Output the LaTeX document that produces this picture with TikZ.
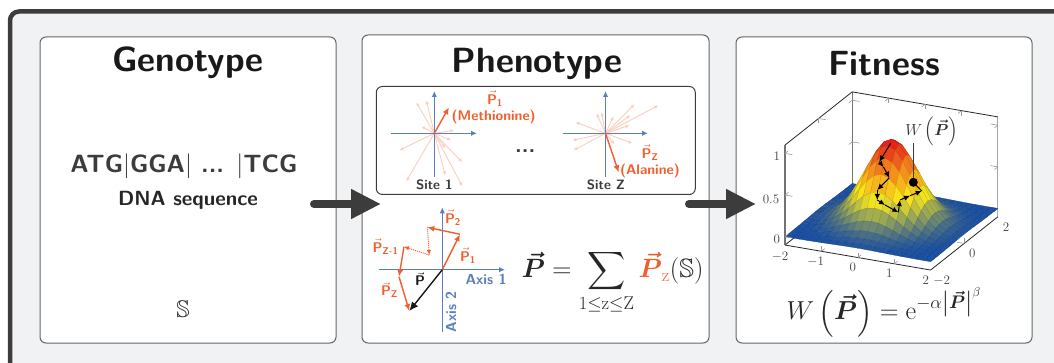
\documentclass[tikz,border=0pt]{standalone}
\usepackage{fix-cm}
\usepackage{amsmath, amssymb}
\usepackage{xcolor}
\usepackage{tikz}
\usetikzlibrary{arrows.meta}

\definecolor{framegray}{HTML}{3C3C3C}
\definecolor{panelbg}{HTML}{F1F2F4}
\definecolor{axisblue}{HTML}{5B7FBD}
\definecolor{vecorange}{HTML}{F15F2E}
\definecolor{fitblue}{HTML}{1B50A4}
\definecolor{fityellow}{HTML}{FAE81A}
\definecolor{fitorange}{HTML}{F4891C}
\definecolor{fitred}{HTML}{E6201E}

\newcommand{\vecP}{\vec{\textbf{\textsf{P}}}}
\newcommand{\subtag}[1]{{\scriptstyle\textbf{\textsf{#1}}}}
\newcommand{\setsurfcolor}[1]{%
    \pgfmathsetmacro\zv{#1}%
    \ifdim\zv pt<0.42pt
        \pgfmathtruncatemacro\mixp{\zv/0.42*100}\colorlet{surf}{fityellow!\mixp!fitblue}%
    \else\ifdim\zv pt<0.7pt
        \pgfmathtruncatemacro\mixp{(\zv-0.42)/0.28*100}\colorlet{surf}{fitorange!\mixp!fityellow}%
    \else
        \pgfmathtruncatemacro\mixp{(\zv-0.7)/0.26*100}\colorlet{surf}{fitred!\mixp!fitorange}%
    \fi\fi}

\tikzset{
    panel/.style={draw=black!60, fill=white, line width=1pt, rounded corners=6pt, inner sep=0pt},
    paneltitle/.style={font=\fontsize{35}{38}\selectfont\sffamily\bfseries, text=black!90},
    bigarrow/.style={draw=framegray, line width=8pt, line cap=round, -{Triangle[length=30pt,width=28pt]}},
    axisline/.style={draw=axisblue, line width=1.2pt, -{Latex[length=6pt,width=5.5pt]}},
    axislabel/.style={font=\fontsize{14.5}{16}\selectfont\sffamily\bfseries, text=axisblue, inner sep=0pt},
    faintvec/.style={draw=vecorange!30, line width=0.9pt, -{Latex[length=4pt,width=3.5pt]}},
    strongvec/.style={draw=vecorange, line width=1.4pt, -{Latex[length=7pt,width=6pt]}},
    dottedvec/.style={draw=vecorange, line width=1pt, densely dotted, -{Latex[length=5pt,width=4.5pt]}},
    veclabel/.style={font=\fontsize{14}{16}\selectfont\sffamily\bfseries, text=vecorange, inner sep=0pt},
    sitelabel/.style={font=\fontsize{13.5}{16}\selectfont\sffamily\bfseries, text=framegray, inner sep=0pt},
    boxedge/.style={draw=black!85, line width=0.8pt},
    boxpost/.style={draw=black!55, line width=1.3pt},
    tickline/.style={draw=black!40, line width=0.6pt},
    ticklabel/.style={font=\fontsize{13}{15}\selectfont, text=black!75, inner sep=0pt},
    walkarrow/.style={draw=black, line width=1pt, -{Latex[length=6pt,width=5.5pt]}}
}

\begin{document}
\begin{tikzpicture}[x=1pt, y=-1pt, declare function={fit(\u,\v)=exp(-1.1*(\u*\u+\v*\v));}]
    \useasboundingbox (0,0) rectangle (1054,363);
    \clip (0,0) rectangle (1054,363);

    % 1. Outer frame
    \draw[draw=framegray, fill=panelbg, line width=4.5pt, rounded corners=9pt] (10,400) -- (10,11.5) -- (1100,11.5) -- (1100,400) -- cycle;

    % 2. Panels
    \node[panel, minimum width=296pt, minimum height=306pt] (genobox) at (188,190) {};
    \node[panel, minimum width=347pt, minimum height=308pt] (phenobox) at (535.5,189) {};
    \node[panel, minimum width=296pt, minimum height=306pt] (fitbox) at (884,190) {};
    \node[paneltitle] (genotitle) at (188,63) {Genotype};
    \node[paneltitle] (phenotitle) at (537,64) {Phenotype};
    \node[paneltitle] (fittitle) at (884,64) {Fitness};

    % 3. Genotype
    \node[font=\fontsize{25}{28}\selectfont\sffamily\bfseries, text=framegray] (codons) at (184,166) {ATG$|$GGA$|$ ... $|$TCG};
    \node[font=\fontsize{20.5}{24}\selectfont\sffamily\bfseries, text=black!85] (dnalabel) at (188,200) {DNA sequence};
    \node[font=\fontsize{24}{28}\selectfont, text=black!85] (genosym) at (183,309) {$\mathbb{S}$};

    % 4. Sites
    \node[draw=framegray, fill=white, line width=1pt, rounded corners=6pt, minimum width=319pt, minimum height=108pt, inner sep=0pt] (sitebox) at (535.8,140.5) {};
    \coordinate (siteA) at (434.3,133.3);
    \coordinate (siteB) at (605.5,133.3);
    \foreach \dx/\dy in {-18/-31, -8/-33, -13/-7, 20/-3, 17/7, -35/17, -28/48, 28/29, 28/53, 11/42, 11/15}
        \draw[faintvec] (siteA) -- ++(\dx,\dy);
    \foreach \dx/\dy in {29/-29, 53/-28, 8/-17, -4/-21, -9/-20, 24/-8, 25/-18, -30/-11, -33/7, -32/17, 9/11, 27/10}
        \draw[faintvec] (siteB) -- ++(\dx,\dy);
    \draw[axisline] (391.3,133.3) -- (477,133.3);
    \draw[axisline] (434.3,176.7) -- (434.3,91);
    \draw[axisline] (562.5,133.3) -- (648,133.3);
    \draw[axisline] (605.5,176.7) -- (605.5,91);
    \coordinate (siteAtip) at (449,107.3);
    \coordinate (siteBtip) at (618.7,172.3);
    \draw[strongvec] (siteA) -- (siteAtip);
    \draw[strongvec] (siteB) -- (siteBtip);
    \node[veclabel] (labA) at (495,98.5) {$\vecP_{\subtag{1}}$};
    \node[veclabel] (metlabel) at (493.7,116.7) {(Methionine)};
    \node[veclabel] (labZ) at (650,152.5) {$\vecP_{\subtag{Z}}$};
    \node[veclabel] (alalabel) at (650,170.7) {(Alanine)};
    \node[sitelabel] (siteone) at (434.3,185.3) {Site 1};
    \node[sitelabel] (sitezed) at (606,185.3) {Site Z};
    \node[font=\fontsize{22}{24}\selectfont\sffamily\bfseries, text=framegray] (sitedots) at (525.3,151) {...};

    % 5. Sum of vectors
    \coordinate (sumO) at (442.3,269.7);
    \coordinate (sumA) at (460,234.3);
    \coordinate (sumB) at (427.3,227.3);
    \coordinate (sumC) at (429.3,255);
    \coordinate (sumD) at (404,246.7);
    \coordinate (sumE) at (399,276.7);
    \coordinate (sumF) at (409.3,311);
    \draw[axisline] (379.3,269.7) -- (505,269.7);
    \draw[axisline] (442.3,331.7) -- (442.3,207.3);
    \draw[strongvec] (sumO) -- (sumA);
    \draw[strongvec] (sumA) -- (sumB);
    \draw[dottedvec] (sumB) -- (sumC);
    \draw[dottedvec] (sumC) -- (sumD);
    \draw[strongvec] (sumD) -- (sumE);
    \draw[strongvec] (sumE) -- (sumF);
    \draw[draw=black!90, line width=1.4pt, -{Latex[length=9pt,width=8pt]}] (sumO) -- (sumF);
    \node[veclabel] (sumlabA) at (468,255.7) {$\vecP_{\subtag{1}}$};
    \node[veclabel] (sumlabB) at (453,217.7) {$\vecP_{\subtag{2}}$};
    \node[veclabel] (sumlabD) at (385.5,246.7) {$\vecP_{\subtag{Z-1}}$};
    \node[veclabel] (sumlabE) at (389.5,290) {$\vecP_{\subtag{Z}}$};
    \node[veclabel, text=black!90] (sumlabP) at (420,279) {$\vecP$};
    \node[axislabel] (axisone) at (486,279) {Axis 1};
    \node[axislabel, rotate=90] (axistwo) at (451,311.7) {Axis 2};
    \node[font=\fontsize{26.5}{28}\selectfont, text=black!85, inner sep=0pt] (sumform) at (612.5,282) {$\displaystyle\boldsymbol{\vec{P}} = \sum_{\mathrm{1\leq z\leq Z}} \textcolor{vecorange}{\boldsymbol{\vec{P}}_{\mathrm{z}}}(\mathbb{S})$};

    % 6. Fitness surface
    \begin{scope}[shift={(891.4,222.6)}, x={(36.4pt,-6.25pt)}, y={(16.8pt,13.3pt)}, z={(0pt,83.3pt)}]
        \draw[boxpost] (-2,2,-0.1) -- (-2,2,1.1);
        \draw[boxpost, draw=black!35] (2,2,-0.1) -- (2,2,1.1);
        \draw[boxedge] (-2,-2,1.1) -- (-2,2,1.1) -- (2,2,1.1);
        \draw[boxedge] (-2,-2,-0.1) -- (-2,2,-0.1);
        \foreach \t in {-1,0,1} {
            \draw[tickline] (\t,2,1.1) -- ++(0,-0.2,0);
            \draw[tickline] (\t,2,1.1) -- ++(0,0,-0.06);
        }
        \draw[tickline] (-2,0,1.1) -- ++(0.2,0,0);
        \draw[tickline] (-2,0,1.1) -- ++(0,0,-0.06);
        \foreach \t in {0.5,1} {
            \draw[tickline] (-2,2,\t) -- ++(0.2,0,0);
            \draw[tickline] (-2,2,\t) -- ++(0,-0.2,0);
        }
        \foreach \t in {0,0.5,1} {
            \draw[tickline] (2,2,\t) -- ++(-0.2,0,0);
            \draw[tickline] (2,2,\t) -- ++(0,-0.2,0);
        }
        \foreach \i in {0,...,19} {
            \foreach \j in {19,...,0} {
                \pgfmathsetmacro\xa{-2+\i/5}
                \pgfmathsetmacro\xb{\xa+1/5}
                \pgfmathsetmacro\ya{-2+\j/5}
                \pgfmathsetmacro\yb{\ya+1/5}
                \pgfmathsetmacro\zaa{fit(\xa,\ya)}
                \pgfmathsetmacro\zba{fit(\xb,\ya)}
                \pgfmathsetmacro\zbb{fit(\xb,\yb)}
                \pgfmathsetmacro\zab{fit(\xa,\yb)}
                \setsurfcolor{(\zaa+\zba+\zbb+\zab)/4}
                \filldraw[draw=surf!82!black, line width=0.25pt, fill=surf] (\xa,\ya,\zaa) -- (\xb,\ya,\zba) -- (\xb,\yb,\zbb) -- (\xa,\yb,\zab) -- cycle;
            }
        }
        \draw[boxpost] (-2,-2,-0.1) -- (-2,-2,1.1);
        \draw[boxedge] (-2,-2,-0.1) -- (2,-2,-0.1) -- (2,2,-0.1);
        \foreach \t in {-1,0,1} {
            \draw[tickline] (\t,-2,-0.1) -- ++(0,0.2,0);
            \draw[tickline] (\t,-2,-0.1) -- ++(0,0,0.06);
        }
        \draw[tickline] (2,0,-0.1) -- ++(-0.2,0,0);
        \draw[tickline] (2,0,-0.1) -- ++(0,0,0.06);
        \foreach \t in {0,0.5,1} {
            \draw[tickline] (-2,-2,\t) -- ++(0.2,0,0);
            \draw[tickline] (-2,-2,\t) -- ++(0,0.2,0);
        }
    \end{scope}

    % 7. Walk on the surface
    \foreach \px/\py [count=\k] in {890.7/143.3, 879.3/161.7, 883.5/167, 889.3/177.7, 877.3/190, 877.3/200, 885/205, 898.3/212.3, 900/200, 910/195.7, 921.7/191, 913.3/182.3}
        \coordinate (w\k) at (\px,\py);
    \foreach \a/\b in {w1/w2, w2/w3, w3/w4, w4/w5, w5/w6, w6/w7, w7/w8, w8/w9, w9/w10, w10/w11}
        \draw[walkarrow] (\a) -- (\b);
    \draw[draw=black, line width=1pt] (w11) -- (w12);
    \node[circle, fill=black, minimum size=9pt, inner sep=0pt] (walkend) at (w12) {};
    \node[font=\fontsize{16}{18}\selectfont, text=black!80, inner sep=0pt] (walklabel) at (931.7,131.7) {$W\left(\boldsymbol{\vec{P}}\right)$};
    \coordinate (walktop) at (913.3,143);
    \draw[draw=framegray, line width=1pt] (walkend) -- (walktop);

    % 8. Tick labels
    \foreach \lab/\px/\py [count=\k] in {1/776.7/156, 0.5/771/199, 0/776.7/239.3}
        \node[ticklabel] (zlab\k) at (\px,\py) {$\lab$};
    \foreach \lab/\px/\py [count=\k] in {-2/780/256.7, -1/815.7/262.3, 0/852.7/267.7, 1/889.3/273.3, 2/925.7/280}
        \node[ticklabel] (xlab\k) at (\px,\py) {$\lab$};
    \foreach \lab/\px/\py [count=\k] in {-2/941.7/281, 0/972.3/253.3, 2/1006/227.3}
        \node[ticklabel] (ylab\k) at (\px,\py) {$\lab$};
    \node[font=\fontsize{26}{28}\selectfont, text=black!85, inner sep=0pt] (fitform) at (884,312) {$W\left(\boldsymbol{\vec{P}}\right) = \mathrm{e}^{-\alpha\left|\boldsymbol{\vec{P}}\right|^{\beta}}$};

    % 9. Big arrows
    \coordinate (arrowAs) at (314,204);
    \coordinate (arrowAe) at (381,204);
    \coordinate (arrowBs) at (689,204);
    \coordinate (arrowBe) at (756,204);
    \draw[bigarrow] (arrowAs) -- (arrowAe);
    \draw[bigarrow] (arrowBs) -- (arrowBe);
\end{tikzpicture}
\end{document}
